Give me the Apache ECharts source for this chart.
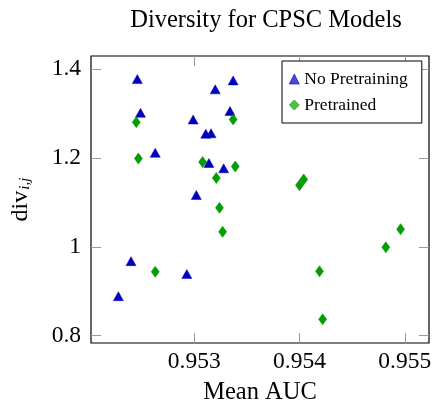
<!DOCTYPE html>
<html>
<head>
<meta charset="utf-8">
<script src="https://cdn.jsdelivr.net/npm/echarts@6/dist/echarts.min.js"></script>
<style>html,body{margin:0;padding:0;background:#fff}#c{width:435px;height:405px}</style>
</head>
<body>
<div id="c"></div>
<script>
const titleText = 'Diversity for CPSC Models';
const xName = 'Mean AUC';
const seriesNames = ['No Pretraining', 'Pretrained'];
const xTicks = [0.953, 0.954, 0.955];
const yTicks = [0.8, 1.0, 1.2, 1.4];

const noPretrainAUC = [0.95246, 0.95337, 0.95320, 0.95249, 0.95334, 0.95299, 0.95311, 0.95316, 0.95263, 0.95314, 0.95328, 0.95302, 0.95240, 0.95228, 0.95293];
const noPretrainDiv = [1.378, 1.375, 1.355, 1.302, 1.306, 1.287, 1.255, 1.256, 1.212, 1.189, 1.177, 1.117, 0.968, 0.889, 0.939];

const pretrainAUC = [0.95245, 0.95337, 0.95247, 0.95308, 0.95339, 0.95321, 0.95324, 0.95327, 0.95263, 0.95400, 0.95404, 0.95496, 0.95482, 0.95419, 0.95422];
const pretrainDiv = [1.281, 1.287, 1.199, 1.191, 1.181, 1.155, 1.088, 1.034, 0.944, 1.139, 1.152, 1.040, 0.999, 0.945, 0.837];

const xMin = 0.95202, xMax = 0.95523;
const yMin = 0.7836, yMax = 1.430;

const serif = '"Liberation Serif", "DejaVu Serif", serif';
const tickColor = '#9a9a9a';

function zip(a, b) { return a.map((v, i) => [v, b[i]]); }

const chart = echarts.init(document.getElementById('c'), null, {renderer: 'canvas'});

const baseX = {
  type: 'value', min: xMin, max: xMax, scale: true,
  splitLine: {show: false},
  axisLine: {show: false},
  axisTick: {show: true, inside: true, length: 10, customValues: xTicks, lineStyle: {color: tickColor, width: 1}},
};
const baseY = {
  type: 'value', min: yMin, max: yMax, scale: true,
  splitLine: {show: false},
  axisLine: {show: false},
  axisTick: {show: true, inside: true, length: 10, customValues: yTicks, lineStyle: {color: tickColor, width: 1}},
};

chart.setOption({
  animation: false,
  backgroundColor: '#fff',
  title: {
    text: titleText, left: 261, top: 3, textAlign: 'center',
    textStyle: {fontFamily: serif, fontSize: 24.5, fontWeight: 'normal', color: '#000'}
  },
  grid: {left: 91, right: 6, top: 56, bottom: 62, containLabel: false, outerBoundsMode: 'none',
    show: true, borderColor: '#000', borderWidth: 1.2, backgroundColor: 'transparent'},
  legend: {
    orient: 'vertical', left: 282, top: 61,
    padding: [9, 14, 9, 7], itemGap: 8, itemWidth: 10, itemHeight: 10, itemTextGap: 4,
    backgroundColor: '#fff', borderColor: '#000', borderWidth: 1,
    textStyle: {fontFamily: serif, fontSize: 17.5, color: '#000'},
    data: [
      {name: seriesNames[0], icon: 'triangle', itemStyle: {color: '#4a4ad6', borderColor: '#0000b0', borderWidth: 0.6}},
      {name: seriesNames[1], icon: 'diamond', itemStyle: {color: '#4cbf4c', borderColor: '#009000', borderWidth: 0.6}}
    ]
  },
  xAxis: [
    Object.assign({}, baseX, {
      position: 'bottom',
      name: xName, nameLocation: 'middle', nameGap: 37,
      nameTextStyle: {fontFamily: serif, fontSize: 24.5, color: '#000'},
      axisLabel: {customValues: xTicks, fontFamily: serif, fontSize: 23.5, color: '#000', margin: 7,
        formatter: v => v.toFixed(3)}
    }),
    Object.assign({}, baseX, {position: 'top', axisLabel: {show: false}})
  ],
  yAxis: [
    Object.assign({}, baseY, {
      position: 'left',
      name: '{n|div}{s|i,j}', nameLocation: 'middle', nameGap: 58, nameRotate: 90,
      nameTextStyle: {
        fontFamily: serif, fontSize: 24, color: '#000',
        rich: {
          n: {fontFamily: serif, fontSize: 24, color: '#000'},
          s: {fontFamily: serif, fontSize: 15, fontStyle: 'italic', color: '#000', verticalAlign: 'bottom', padding: [8, 0, 0, 1]}
        }
      },
      axisLabel: {customValues: yTicks, fontFamily: serif, fontSize: 23.5, color: '#000', margin: 10,
        formatter: v => (Math.abs(v - 1) < 1e-9 ? '1' : String(Math.round(v * 10) / 10))}
    }),
    Object.assign({}, baseY, {position: 'right', axisLabel: {show: false}})
  ],
  series: [
    {
      name: seriesNames[0], type: 'scatter', xAxisIndex: 0, yAxisIndex: 0,
      symbol: 'triangle', symbolSize: [10, 9],
      itemStyle: {color: '#0000b8', borderColor: '#0000e0', borderWidth: 0.5, opacity: 1},
      data: zip(noPretrainAUC, noPretrainDiv)
    },
    {
      name: seriesNames[1], type: 'scatter', xAxisIndex: 0, yAxisIndex: 0,
      symbol: 'diamond', symbolSize: [8, 11],
      itemStyle: {color: '#00a000', borderColor: '#008a00', borderWidth: 0.5, opacity: 1},
      data: zip(pretrainAUC, pretrainDiv)
    }
  ]
});
</script>
</body>
</html>
